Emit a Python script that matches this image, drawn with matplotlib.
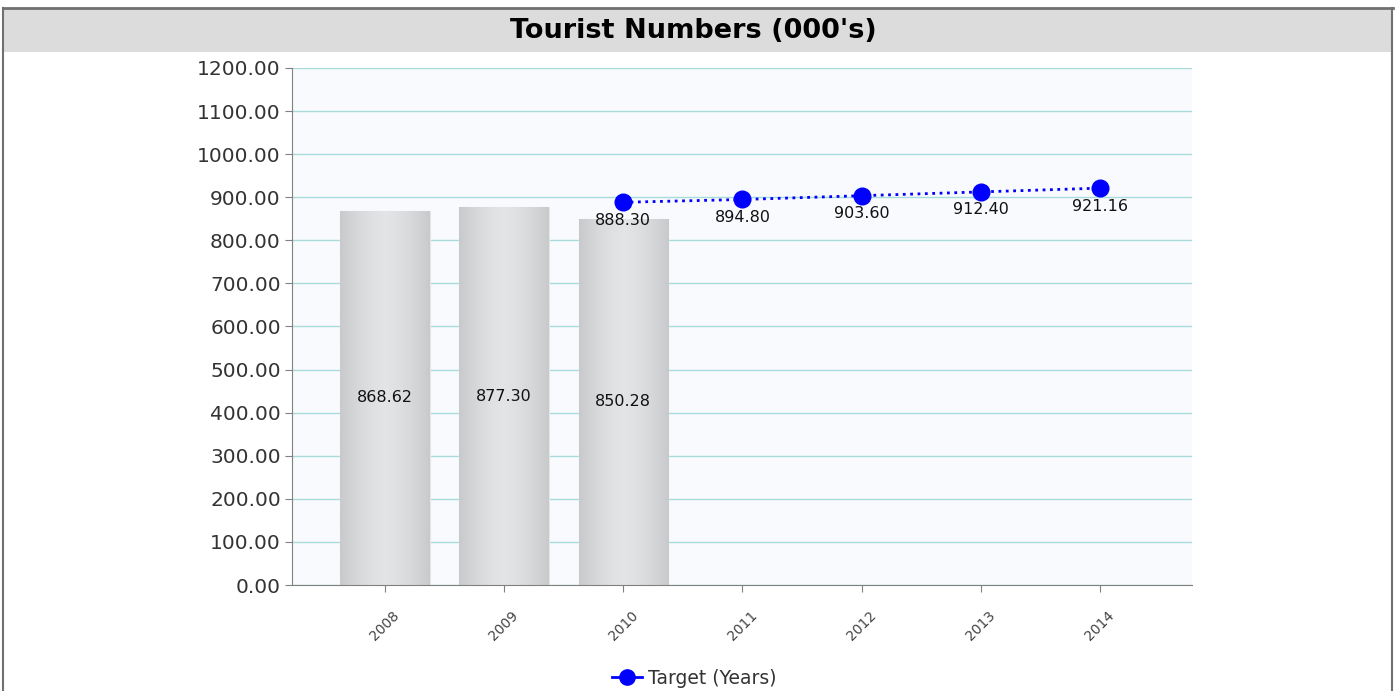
import numpy as np
import matplotlib.pyplot as plt
from matplotlib.patches import Rectangle
from matplotlib.lines import Line2D
from matplotlib.colors import LinearSegmentedColormap

# data
years = ['2008', '2009', '2010', '2011', '2012', '2013', '2014']
actual = [868.62, 877.30, 850.28]
target_years = ['2010', '2011', '2012', '2013', '2014']
target = [888.30, 894.80, 903.60, 912.40, 921.16]
yticks = np.arange(0, 1201, 100)

plt.rcParams['font.family'] = ['DejaVu Sans']

fig = plt.figure(figsize=(13.97, 6.91), dpi=100)
fig.patch.set_facecolor('white')

# title bar with frame
fig.patches.append(Rectangle((0.003, 0.925), 0.994, 0.064, transform=fig.transFigure,
                             facecolor='#dcdcdc', edgecolor='none', zorder=0))
fig.lines.append(Line2D([0.002, 0.997], [0.989, 0.989], transform=fig.transFigure,
                        color='#707070', lw=2))
fig.lines.append(Line2D([0.0025, 0.0025], [0.0, 0.989], transform=fig.transFigure,
                        color='#707070', lw=1.5))
fig.lines.append(Line2D([0.9965, 0.9965], [0.0, 0.989], transform=fig.transFigure,
                        color='#707070', lw=1.5))
fig.text(0.4965, 0.955, "Tourist Numbers (000's)", ha='center', va='center',
         fontsize=19.5, fontweight='bold', color='black')

ax = fig.add_axes([0.209, 0.1534, 0.644, 0.7482])
ax.set_facecolor('#f9fafd')
x = np.arange(len(years))

ax.set_yticks(yticks)
ax.set_yticklabels([f'{v:.2f}' for v in yticks], fontsize=14.5, color='#333333')
ax.yaxis.grid(True, color='#a8dcdc', lw=1)
ax.set_axisbelow(True)

# bars with a soft horizontal gradient (light centre, slightly darker edges)
bar_cmap = LinearSegmentedColormap.from_list('bar', ['#e3e4e6', '#c9cacc'])
bars = ax.bar(x[:len(actual)], actual, width=0.75, color='#d5d6d8',
              edgecolor='#e6e6e6', lw=0.8, zorder=2)
grad = np.abs(np.linspace(-1, 1, 64))[None, :] ** 1.5
for b in bars:
    bx, bw, bh = b.get_x(), b.get_width(), b.get_height()
    im = ax.imshow(grad, cmap=bar_cmap, vmin=0, vmax=1, aspect='auto',
                   extent=(bx, bx + bw, 0, bh), zorder=2.1)
    im.set_clip_path(b)
ax.set_xlim(-0.78, 6.77)
ax.set_ylim(0, 1200)

for xi, v in zip(x, actual):
    ax.text(xi, v / 2, f'{v:.2f}', ha='center', va='center', fontsize=11.5,
            color='#111111', zorder=3)

tx = [years.index(y) for y in target_years]
ax.plot(tx, target, color='blue', ls=':', lw=2, marker='o', ms=12, zorder=4)
for xi, v in zip(tx, target):
    ax.annotate(f'{v:.2f}', (xi, v), xytext=(0, -13), textcoords='offset points',
                ha='center', va='center', fontsize=11.5, color='#111111', zorder=5)

ax.set_xticks(x)
ax.set_xticklabels(years, rotation=45, fontsize=10, color='#444444')
for sp in ['top', 'right']:
    ax.spines[sp].set_visible(False)
for sp in ['left', 'bottom']:
    ax.spines[sp].set_color('#808080')
ax.tick_params(axis='y', length=5, color='#808080', pad=3)
ax.tick_params(axis='x', length=5, color='#808080', pad=12)

leg_handle = Line2D([], [], color='blue', marker='o', ms=11, lw=2)
fig.legend([leg_handle], ['Target (Years)'], loc='center', bbox_to_anchor=(0.497, 0.018),
           frameon=False, fontsize=13.5, handlelength=1.6, handletextpad=0.3,
           labelcolor='#333333')

plt.savefig('out.png', dpi=100)
